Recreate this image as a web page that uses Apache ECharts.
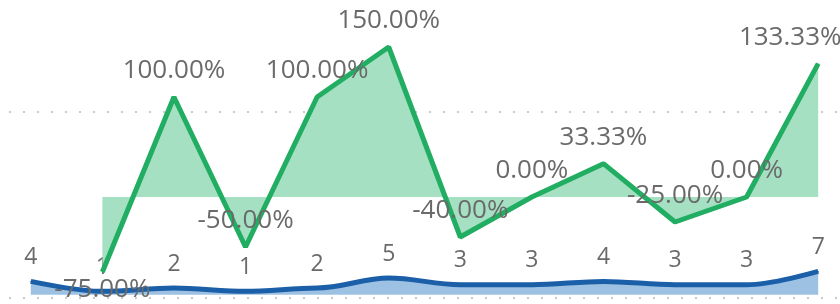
<!DOCTYPE html>
<html>
<head>
<meta charset="utf-8">
<script src="https://cdn.jsdelivr.net/npm/echarts@6/dist/echarts.min.js"></script>
<style>html,body{margin:0;padding:0;background:#fff}#main{width:840px;height:304px}</style>
</head>
<body>
<div id="main"></div>
<script>
const categories = ['1', '2', '3', '4', '5', '6', '7', '8', '9', '10', '11', '12'];
const counts = [4, 1, 2, 1, 2, 5, 3, 3, 4, 3, 3, 7];
const changes = ['-', -75, 100, -50, 100, 150, -40, 0, 33.33, -25, 0, 133.33];

const chart = echarts.init(document.getElementById('main'));
const green = '#21ad62';
const blue = '#1a5fa8';

// the -75% label sits under its point, the last one is pushed back inside the frame
const changeData = changes.map((v, i) => {
  if (i === 1) return { value: v, label: { position: 'bottom', distance: 4 } };
  if (i === changes.length - 1) return { value: v, label: { offset: [-28, 0] } };
  return v;
});

chart.setOption({
  animation: false,
  grid: { left: -5, right: -14, top: 112, bottom: 6, outerBoundsMode: 'none', containLabel: false },
  xAxis: {
    type: 'category',
    data: categories,
    boundaryGap: true,
    show: false
  },
  yAxis: [
    { type: 'value', min: -1, max: 55, show: false },
    { type: 'value', min: -101, max: 85, show: false },
    {
      type: 'value', min: 0, max: 1, interval: 1,
      axisLine: { show: false }, axisTick: { show: false }, axisLabel: { show: false },
      splitLine: { show: true, lineStyle: { color: '#bbb', type: [2, 12], width: 1.5 } }
    }
  ],
  series: [
    {
      type: 'line',
      yAxisIndex: 1,
      data: changeData,
      clip: false,
      symbol: 'circle',
      symbolSize: 1,
      itemStyle: { color: green },
      lineStyle: { color: green, width: 5 },
      areaStyle: { color: '#a6e0c3', opacity: 1 },
      label: {
        show: true,
        position: 'top',
        distance: 13,
        fontFamily: 'Open Sans',
        fontSize: 26,
        color: '#6a6a6a',
        formatter: p => p.value.toFixed(2) + '%'
      },
      z: 3
    },
    {
      type: 'line',
      yAxisIndex: 0,
      data: counts,
      smooth: 0.35,
      smoothMonotone: 'x',
      symbol: 'circle',
      symbolSize: 1,
      itemStyle: { color: blue },
      lineStyle: { color: blue, width: 5 },
      areaStyle: { color: '#9dc1e2', opacity: 1 },
      label: {
        show: true,
        position: 'top',
        distance: 12,
        fontFamily: 'Open Sans',
        fontSize: 23,
        color: '#6a6a6a'
      },
      z: 2
    }
  ]
});
</script>
</body>
</html>
